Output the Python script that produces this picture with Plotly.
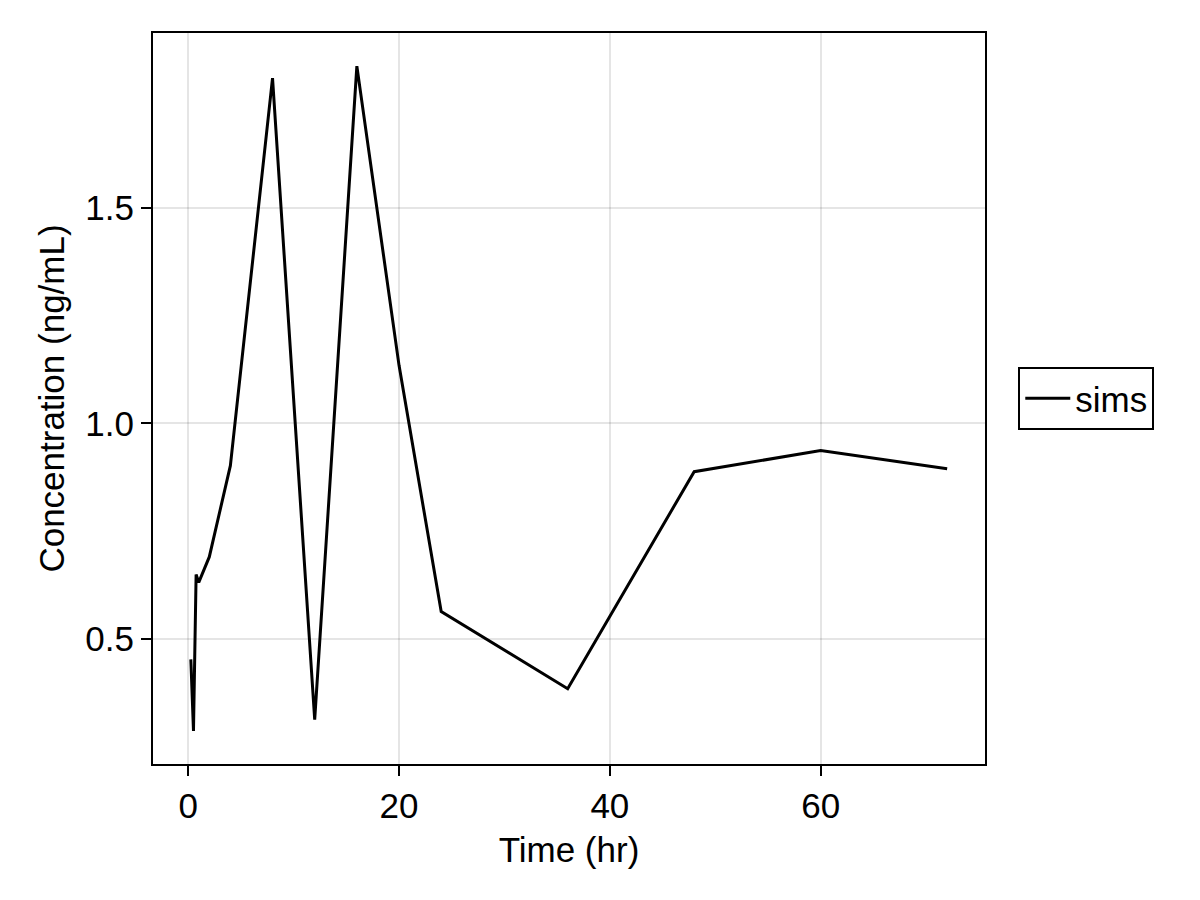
import plotly.graph_objects as go

# sampled concentration curve
time_hr = [0.25, 0.5, 0.75, 1, 2, 4, 8, 12, 16, 20, 24, 36, 48, 60, 72]
conc = [0.452, 0.286, 0.649, 0.631, 0.69, 0.902, 1.802, 0.312, 1.830, 1.135,
        0.563, 0.384, 0.888, 0.937, 0.895]

FONT = "Liberation Sans, Arial, sans-serif"
FS = 35

fig = go.Figure()
fig.add_trace(go.Scatter(x=time_hr, y=conc, mode="lines", name="sims",
                         line=dict(color="black", width=3)))

axis_style = dict(
    showline=True, linecolor="black", linewidth=2, mirror=True,
    showgrid=True, gridcolor="rgba(0,0,0,0.1)", gridwidth=2,
    zeroline=False, ticks="outside", ticklen=10, tickwidth=2,
    tickcolor="black", tickfont=dict(size=FS, color="black"),
)

fig.update_xaxes(range=[-3.34, 75.59], tickvals=[0, 20, 40, 60],
                 title=dict(text="Time (hr)", font=dict(size=FS, color="black"),
                            standoff=13),
                 **axis_style)
fig.update_yaxes(range=[0.209, 1.907], tickvals=[0.5, 1.0, 1.5],
                 ticktext=["0.5", "1.0", "1.5"],
                 title=dict(text="Concentration (ng/mL)",
                            font=dict(size=FS, color="black"), standoff=10),
                 **axis_style)

fig.update_layout(
    width=1200, height=900,
    margin=dict(l=145, r=223, t=25, b=144),
    plot_bgcolor="white", paper_bgcolor="white",
    font=dict(family=FONT, color="black"),
    legend=dict(x=1.04, y=0.5, xanchor="left", yanchor="middle",
                bordercolor="black", borderwidth=2, itemwidth=45,
                font=dict(size=FS), bgcolor="white"),
    showlegend=True,
)

fig.write_html("out.html")
